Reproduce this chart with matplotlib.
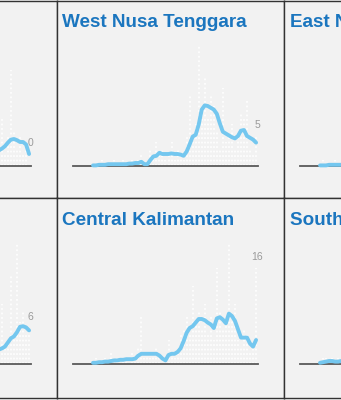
import matplotlib.pyplot as plt
import numpy as np

W, H = 341, 400

# panel names, left to right, top to bottom
names = ["Bali", "West Nusa Tenggara", "East Nusa Tenggara",
         "West Kalimantan", "Central Kalimantan", "South Kalimantan"]

# daily cases and 7-day average, one point per ~3 days (55 points)
bali_daily = [0, 0, 1, 0, 0, 1, 0, 1, 0, 1, 1, 0, 2, 1, 0, 1, 2, 1, 0, 2, 3, 1, 2, 4, 1,
              3, 2, 5, 2, 4, 6, 3, 5, 4, 7, 2, 4, 3, 5, 2, 3, 4, 2, 3, 3, 8, 2, 5, 16, 6,
              3, 5, 2, 4, 0]
bali_avg = [0.2, 0.2, 0.3, 0.3, 0.4, 0.4, 0.5, 0.5, 0.6, 0.6, 0.7, 0.8, 0.8, 0.9, 1.0,
            1.0, 1.1, 1.2, 1.3, 1.3, 1.4, 1.5, 1.6, 1.8, 2.0, 2.1, 2.3, 2.4, 2.6, 2.9,
            3.1, 3.4, 3.6, 3.8, 3.9, 3.7, 3.5, 3.2, 3.0, 2.8, 2.7, 2.5, 2.4, 2.5, 2.6,
            2.9, 3.3, 3.9, 4.4, 4.5, 4.3, 4.0, 4.0, 3.6, 2.0]

wnt_daily = [0, 0, 0, 1, 0, 0, 0, 1, 0, 0, 1, 0, 0, 1, 0, 1, 2, 0, 0, 3, 2, 4, 2, 3, 1,
             2, 4, 1, 3, 2, 1, 5, 12, 4, 7, 20, 9, 15, 8, 12, 10, 6, 3, 13, 4, 5, 7, 3,
             5, 9, 8, 11, 3, 2, 5]
wnt_avg = [0.1, 0.1, 0.2, 0.2, 0.2, 0.3, 0.3, 0.3, 0.3, 0.3, 0.3, 0.3, 0.4, 0.4, 0.5,
           0.5, 0.7, 0.3, 0.3, 1.0, 1.6, 1.7, 2.2, 2.0, 2.0, 2.0, 2.1, 2.0, 2.0, 1.9,
           1.7, 2.4, 3.6, 4.9, 5.2, 6.9, 9.4, 10.1, 10.0, 9.7, 9.4, 8.7, 7.1, 5.7, 5.4,
           5.1, 4.8, 4.6, 5.0, 5.9, 6.0, 5.0, 4.7, 4.4, 3.9]

ent_daily = [0, 1, 0, 0, 0, 1, 0, 0, 0, 1, 0, 0, 1, 0, 0, 0, 1, 0, 1, 0, 0, 1, 0, 1, 0,
             1, 0, 2, 1, 0, 1, 2, 0, 1, 3, 1, 2, 0, 1, 2, 1, 3, 2, 1, 2, 4, 1, 2, 3, 1,
             2, 3, 1, 2, 2]
ent_avg = [0.1, 0.1, 0.1, 0.2, 0.2, 0.2, 0.2, 0.2, 0.2, 0.2, 0.3, 0.3, 0.3, 0.3, 0.3,
           0.3, 0.3, 0.4, 0.4, 0.4, 0.4, 0.4, 0.5, 0.5, 0.5, 0.6, 0.6, 0.7, 0.7, 0.8,
           0.8, 0.9, 0.9, 1.0, 1.1, 1.1, 1.2, 1.2, 1.3, 1.4, 1.4, 1.5, 1.6, 1.6, 1.7,
           1.8, 1.8, 1.9, 2.0, 2.0, 2.1, 2.1, 2.0, 2.0, 1.9]

wk_daily = [0, 0, 1, 0, 0, 1, 0, 0, 1, 0, 1, 0, 0, 1, 1, 0, 2, 1, 0, 1, 2, 1, 0, 3, 1,
            2, 1, 2, 3, 1, 2, 4, 2, 1, 3, 5, 2, 3, 2, 4, 3, 2, 5, 3, 2, 10, 3, 4, 15, 5,
            20, 7, 9, 5, 6]
wk_avg = [0.1, 0.1, 0.2, 0.2, 0.2, 0.3, 0.3, 0.3, 0.4, 0.4, 0.4, 0.5, 0.5, 0.6, 0.6,
          0.7, 0.7, 0.8, 0.8, 0.9, 1.0, 1.0, 1.1, 1.2, 1.3, 1.3, 1.4, 1.5, 1.6, 1.7,
          1.8, 1.9, 2.0, 2.1, 2.2, 2.3, 2.4, 2.4, 2.5, 2.5, 2.6, 2.5, 2.4, 2.4, 2.4,
          2.6, 2.9, 3.6, 4.3, 4.6, 5.3, 6.2, 6.3, 6.1, 5.6]

ck_daily = [0, 1, 0, 0, 1, 0, 2, 0, 1, 0, 1, 1, 0, 2, 1, 3, 8, 1, 2, 1, 2, 3, 1, 0, 0,
            4, 2, 1, 3, 5, 6, 8, 5, 13, 7, 9, 6, 10, 5, 8, 4, 16, 9, 6, 7, 20, 8, 10,
            4, 3, 6, 5, 2, 3, 16]
ck_avg = [0.2, 0.2, 0.3, 0.3, 0.4, 0.4, 0.5, 0.6, 0.6, 0.7, 0.7, 0.8, 0.8, 0.8, 0.9,
          1.4, 1.7, 1.7, 1.7, 1.7, 1.7, 1.7, 1.4, 0.9, 0.6, 1.5, 1.7, 1.7, 2.0, 2.6,
          3.8, 5.2, 6.0, 6.3, 6.9, 7.5, 7.5, 7.3, 6.9, 6.6, 6.0, 7.6, 7.8, 7.4, 6.8,
          8.4, 8.0, 7.2, 5.8, 4.4, 4.4, 4.4, 3.4, 2.9, 4.0]

sk_daily = [0, 1, 1, 0, 1, 0, 1, 0, 1, 1, 0, 1, 2, 0, 1, 1, 2, 1, 0, 2, 1, 2, 3, 1, 2,
            1, 3, 2, 4, 2, 3, 5, 2, 4, 3, 6, 4, 3, 5, 7, 4, 6, 5, 8, 4, 6, 5, 7, 9, 5,
            6, 8, 5, 7, 6]
sk_avg = [0.2, 0.3, 0.4, 0.5, 0.5, 0.4, 0.4, 0.5, 0.5, 0.6, 0.6, 0.7, 0.8, 0.8, 0.9,
          0.9, 1.0, 1.1, 1.2, 1.2, 1.3, 1.4, 1.6, 1.7, 1.8, 1.9, 2.1, 2.2, 2.4, 2.5,
          2.7, 2.9, 3.0, 3.2, 3.3, 3.5, 3.6, 3.8, 4.0, 4.2, 4.4, 4.6, 4.8, 5.0, 5.1,
          5.3, 5.4, 5.6, 5.9, 6.0, 6.1, 6.3, 6.2, 6.3, 6.4]

dailies = [bali_daily, wnt_daily, ent_daily, wk_daily, ck_daily, sk_daily]
avgs = [bali_avg, wnt_avg, ent_avg, wk_avg, ck_avg, sk_avg]

# layout in pixels
col_x = [-170, 57, 284]
cell_w = 227
row_y = [0.5, 198]
row_h = [197.5, 200]
base_y = [166, 364]
px_per_step = 3.02
px_per_case = 6.0

bg = '#f2f2f2'
blue_line = '#74c7ef'
title_blue = '#1b76bf'


def fig_rect(x, y, w, h):
    # x, y = top-left corner in pixels
    return [x / W, 1 - (y + h) / H, w / W, h / H]


fig = plt.figure(figsize=(W / 100, H / 100), dpi=100, facecolor=bg)

for k in range(6):
    r, c = divmod(k, 3)
    x0 = col_x[c]

    cell = fig.add_axes(fig_rect(x0, row_y[r], cell_w, row_h[r]))
    cell.set_facecolor(bg)
    cell.set_xticks([])
    cell.set_yticks([])
    for s in cell.spines.values():
        s.set_color('#333333')
        s.set_linewidth(1)

    # inner data axes: baseline from 16 px to 201 px into the cell
    inner_h = 140
    ax = fig.add_axes(fig_rect(x0 + 16, base_y[r] - inner_h, 185, inner_h))
    ax.set_facecolor('none')
    ax.axis('off')
    left = -20 / px_per_step
    ax.set_xlim(left, left + 185 / px_per_step)
    ax.set_ylim(0, inner_h / px_per_case)

    daily = np.array(dailies[k])
    avg = np.array(avgs[k])
    xs = np.arange(len(daily))
    nz = daily > 0

    ax.vlines(xs[nz], 0, daily[nz], colors='white', linestyles=(0, (1, 1.5)),
              lw=1.3, alpha=0.85, zorder=2)
    ax.axhline(0, color='#5a5a5a', lw=1.3, zorder=3, clip_on=False)
    ax.plot(xs, avg, color=blue_line, lw=2.8, solid_capstyle='round',
            solid_joinstyle='round', zorder=4, clip_on=False)

    top = max(daily[-1], avg[-1])
    ax.annotate(str(daily[-1]), (xs[-1], top), xytext=(1, 4),
                textcoords='offset points', ha='center', va='bottom',
                fontsize=7.5, color='#9a9a9a', family='Liberation Sans',
                annotation_clip=False)

    fig.text((x0 + 5.5) / W, 1 - (base_y[r] - 139) / H, names[k],
             ha='left', va='baseline', fontsize=13.6, fontweight='bold',
             color=title_blue, family='Liberation Sans')

fig.savefig('out.png', dpi=100, facecolor=bg)
